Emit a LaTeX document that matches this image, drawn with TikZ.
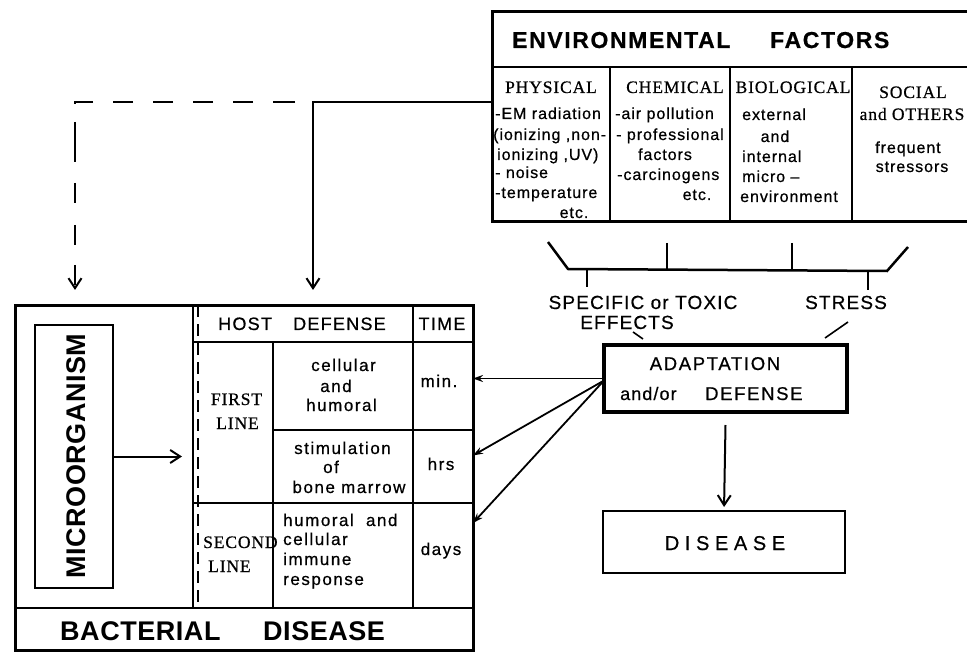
\documentclass[tikz,border=0pt]{standalone}
\usepackage{fontspec}
\setmainfont{Liberation Sans}
\newfontfamily\fA[LetterSpace=7,FakeBold=0.6]{Liberation Sans}
\newfontfamily\fSer[LetterSpace=5,FakeBold=0.6]{Liberation Serif}
\newfontfamily\fB[LetterSpace=6,FakeBold=0.6]{Liberation Sans}
\newfontfamily\fC[LetterSpace=9,FakeBold=0.6]{Liberation Sans}
\newfontfamily\fD[LetterSpace=28,FakeBold=0.6]{Liberation Sans}
\newfontfamily\fE[LetterSpace=2]{Liberation Sans}
\usetikzlibrary{arrows.meta}
\begin{document}
\begin{tikzpicture}[x=1pt,y=-1pt,
 frame/.style={draw, line width=2.6pt, inner sep=0pt, outer sep=0pt, anchor=north west},
 cell/.style={inner sep=0pt, outer sep=0pt, anchor=north west},
 rule/.style={line width=2.5pt},
 t/.style={inner sep=0pt, anchor=base},
 tl/.style={inner sep=0pt, anchor=base west},
 envh/.style={font=\fSer\fontsize{17.5}{20}\selectfont},
 envb/.style={font=\fB\fontsize{16}{19}\selectfont},
 body/.style={font=\fC\fontsize{17}{19}\selectfont},
 head/.style={font=\fA\bfseries\fontsize{23}{26}\selectfont},
 arr/.style={line width=2pt, -{Straight Barb[length=10pt,width=13pt,line width=2pt]}},
 sarr/.style={line width=1.8pt, -{Stealth[length=10pt,width=7pt]}},
]
\useasboundingbox (0,0) rectangle (967,655);
\fill[white] (0,0) rectangle (967,655);

% ---------------- Environmental factors
\node[frame, line width=3pt, minimum width=490pt, minimum height=210pt] (env) at (492,12) {};
\draw[rule] (492,67) -- (985,67);
\draw[rule] (610,67) -- (610,222);
\draw[rule] (730,67) -- (730,222);
\draw[rule] (852,67) -- (852,222);
\node[tl, head] (envt1) at (512,48) {ENVIRONMENTAL};
\node[tl, head] (envt2) at (770,48) {FACTORS};

\node[t, envh] (phys) at (551,93) {PHYSICAL};
\node[tl, envb] (p1) at (495,119) {-EM radiation};
\node[tl, envb] (p2) at (493,140) {(ionizing ,non-};
\node[tl, envb] (p3) at (497,160) {ionizing ,UV)};
\node[tl, envb] (p4) at (495,178) {- noise};
\node[tl, envb] (p5) at (495,198) {-temperature};
\node[t, envb] (p6) at (574,218) {etc.};

\node[t, envh] (chem) at (675,93) {CHEMICAL};
\node[tl, envb] (c1) at (615,119) {-air pollution};
\node[tl, envb] (c2) at (616,140) {- professional};
\node[t, envb] (c3) at (665,160) {factors};
\node[tl, envb] (c4) at (617,180) {-carcinogens};
\node[t, envb] (c5) at (697,200) {etc.};

\node[t, envh] (bio) at (793,93) {BIOLOGICAL};
\node[tl, envb] (b1) at (742,120) {external};
\node[t, envb] (b2) at (775,142) {and};
\node[tl, envb] (b3) at (742,162) {internal};
\node[tl, envb] (b4) at (742,182) {micro –};
\node[tl, envb] (b5) at (740,202) {environment};

\node[t, envh] (soc) at (913,98) {SOCIAL};
\node[t, envh] (s1) at (912,120) {and OTHERS};
\node[t, envb] (s2) at (908,153) {frequent};
\node[t, envb] (s3) at (912,172) {stressors};

% ---------------- bracket
\draw[rule] (548,242) -- (568,269) -- (887,271) -- (908,247);
\draw[rule] (667,243) -- (667,270);
\draw[rule] (792,243) -- (792,270);
\draw[rule] (587,269) -- (587,287);
\draw[rule] (868,271) -- (868,290);
\node[t, font=\fB\fontsize{19}{21}\selectfont] (spec) at (643,309) {SPECIFIC or TOXIC};
\node[t, font=\fB\fontsize{19}{21}\selectfont] (eff) at (627,329) {EFFECTS};
\node[t, font=\fB\fontsize{19}{21}\selectfont] (stress) at (846,309) {STRESS};

% ---------------- adaptation / disease
\node[frame, line width=3.8pt, minimum width=243pt, minimum height=67pt] (adapt) at (604,345) {};
\draw[line width=1.6pt] (633,332) -- (643,339);
\draw[line width=1.6pt] (848,322) -- (825,338);
\node[t, font=\fC\fontsize{18.5}{20}\selectfont] (adt1) at (715,370) {ADAPTATION};
\node[tl, font=\fB\fontsize{18}{20}\selectfont] (adt2) at (620,400) {and/or};
\node[tl, font=\fC\fontsize{18.5}{20}\selectfont] (adt3) at (705,400) {DEFENSE};

\node[frame, line width=2.6pt, minimum width=242pt, minimum height=62pt] (dis) at (603,511) {};
\node[t, font=\fD\fontsize{20}{22}\selectfont] (dist) at (725,550) {DISEASE};
\draw[arr, shorten >=4pt] ([yshift=-13pt]adapt.south) -- (dis.north);

% ---------------- bacterial disease box
\node[frame, line width=3pt, minimum width=458pt, minimum height=345pt] (big) at (15,305) {};
\draw[rule] (15,608) -- (473,608);
\draw[rule] (193,305) -- (193,608);
\draw[line width=1.6pt, dash pattern=on 12pt off 7pt] (198,305) -- (198,608);
\draw[rule] (193,342) -- (473,342);
\draw[rule] (413,305) -- (413,608);
\draw[rule] (273,342) -- (273,608);
\draw[rule] (273,430) -- (473,430);
\draw[rule] (193,503) -- (473,503);

\node[cell, minimum width=280pt, minimum height=303pt] (hd) at (193,305) {};
\node[cell, minimum width=60pt, minimum height=88pt] (tmin) at (413,342) {};
\node[cell, minimum width=60pt, minimum height=73pt] (thrs) at (413,430) {};
\node[cell, minimum width=60pt, minimum height=105pt] (tdays) at (413,503) {};

\node[tl, font=\fA\fontsize{18}{20}\selectfont] (host1) at (218,330) {HOST};
\node[tl, font=\fA\fontsize{18}{20}\selectfont] (host2) at (293,330) {DEFENSE};
\node[t, font=\fA\fontsize{18}{20}\selectfont] (time) at (442,330) {TIME};

\node[t, envh] (fl1) at (236.5,405) {FIRST};
\node[t, envh] (fl2) at (237.5,429) {LINE};
\node[tl, envh] (sl1) at (203,548) {SECOND};
\node[tl, envh] (sl2) at (208,572) {LINE};

\node[t, body] (h1) at (343.5,371) {cellular};
\node[t, body] (h2) at (336,392) {and};
\node[t, body] (h3) at (341.5,411) {humoral};
\node[t, body] (st1) at (342.5,454) {stimulation};
\node[t, body] (st2) at (331,473) {of};
\node[t, body] (st3) at (349,493) {bone marrow};
\node[tl, body] (im1) at (283,526) {humoral\hspace{6pt} and};
\node[tl, body] (im2) at (283,545) {cellular};
\node[tl, body] (im3) at (283,565) {immune};
\node[tl, body] (im4) at (283,585) {response};
\node[t, body] (tm1) at (439,387) {min.};
\node[t, body] (tm2) at (441,470) {hrs};
\node[t, body] (tm3) at (441,555) {days};

\node[frame, line width=2.8pt, minimum width=78pt, minimum height=263pt] (micro) at (35,325) {};
\node[rotate=90, inner sep=0pt, font=\fE\bfseries\fontsize{27}{29}\selectfont] (microt) at (76.5,456) {MICROORGANISM};
\draw[arr, shorten >=11pt] (micro.east) -- (micro.east -| hd.west);

\node[tl, font=\fE\bfseries\fontsize{27}{29}\selectfont] (bd1) at (60,640) {BACTERIAL};
\node[tl, font=\fE\bfseries\fontsize{27}{29}\selectfont] (bd2) at (263,640) {DISEASE};

% ---------------- connectors
\coordinate (corner) at (313,102);
\coordinate (dcorner) at (75,102);
\draw[arr, line width=2.2pt, shorten >=15pt] (corner -| env.west) -- (corner) -- (corner |- hd.north);
\draw[arr, line width=2.6pt, shorten >=15pt,
 dash pattern=on 0pt off 18pt on 22pt off 20pt on 20pt off 20pt on 20pt off 20pt on 20pt off 20pt on 20pt off 20pt on 20pt off 18pt on 40pt off 21pt on 20pt off 22pt on 20pt off 20pt on 20pt off 14pt on 60pt]
 (corner) -- (dcorner) -- (dcorner |- big.north);

\draw[sarr] (adapt.west) -- (tmin.east |- adapt.west);
\draw[sarr] ([yshift=-2pt]adapt.west) -- ([yshift=11pt]thrs.east);
\draw[sarr] ([yshift=-2pt]adapt.west) -- ([yshift=-20pt]tdays.north east);
\end{tikzpicture}
\end{document}
